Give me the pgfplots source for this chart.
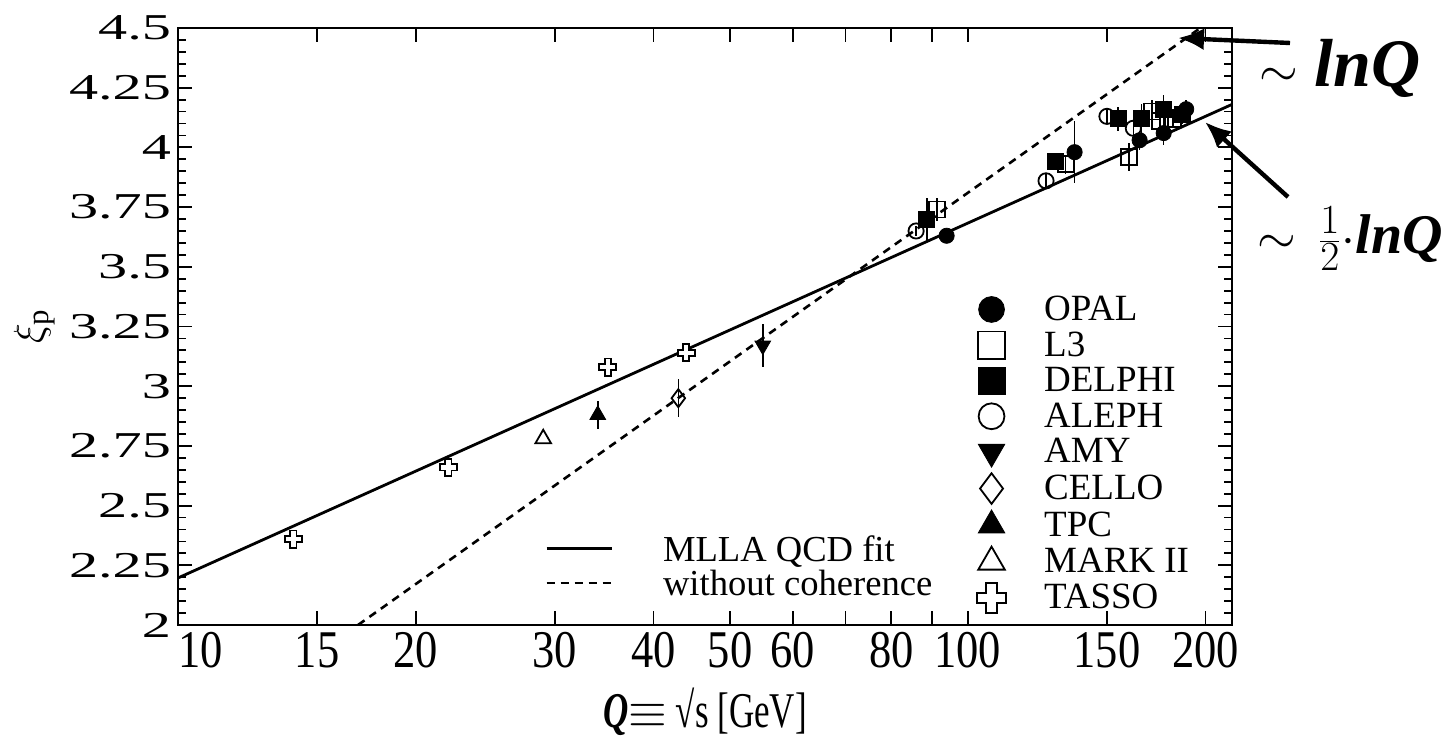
\documentclass[border=0pt]{standalone}
\usepackage{fontspec}
\setmainfont{Liberation Serif}
\newfontfamily\ytfont[FakeStretch=1.6]{Liberation Serif}
\newfontfamily\xtfont[FakeStretch=0.84]{Liberation Serif}
\newfontfamily\xlfont[FakeStretch=0.7]{Liberation Serif}
\usepackage{pgfplots}
\pgfplotsset{compat=1.18}
\usetikzlibrary{arrows.meta}

% open (outlined) cross for TASSO
\pgfdeclareplotmark{ocross}{%
  \pgfpathmoveto{\pgfpoint{-0.36\pgfplotmarksize}{\pgfplotmarksize}}%
  \pgfpathlineto{\pgfpoint{0.36\pgfplotmarksize}{\pgfplotmarksize}}%
  \pgfpathlineto{\pgfpoint{0.36\pgfplotmarksize}{0.36\pgfplotmarksize}}%
  \pgfpathlineto{\pgfpoint{\pgfplotmarksize}{0.36\pgfplotmarksize}}%
  \pgfpathlineto{\pgfpoint{\pgfplotmarksize}{-0.36\pgfplotmarksize}}%
  \pgfpathlineto{\pgfpoint{0.36\pgfplotmarksize}{-0.36\pgfplotmarksize}}%
  \pgfpathlineto{\pgfpoint{0.36\pgfplotmarksize}{-\pgfplotmarksize}}%
  \pgfpathlineto{\pgfpoint{-0.36\pgfplotmarksize}{-\pgfplotmarksize}}%
  \pgfpathlineto{\pgfpoint{-0.36\pgfplotmarksize}{-0.36\pgfplotmarksize}}%
  \pgfpathlineto{\pgfpoint{-\pgfplotmarksize}{-0.36\pgfplotmarksize}}%
  \pgfpathlineto{\pgfpoint{-\pgfplotmarksize}{0.36\pgfplotmarksize}}%
  \pgfpathlineto{\pgfpoint{-0.36\pgfplotmarksize}{0.36\pgfplotmarksize}}%
  \pgfpathclose
  \pgfusepathqfillstroke}

\pgfplotsset{
  errs/.style={error bars/.cd, y dir=both, y explicit, error mark=none,
    error bar style={line width=0.8pt, black}},
}

\begin{document}
\begin{tikzpicture}
% fit curves (own legend)
\begin{axis}[scale only axis, width=527pt, height=298.5pt, at={(0,0)}, anchor=south west,
  xmode=log, xmin=10, xmax=216, ymin=2, ymax=4.5, hide axis,
  legend cell align=left,
  legend style={at={(0.348,0.149)}, anchor=north west, draw=none, fill=none, inner sep=0pt,
    font=\fontsize{18.3}{17}\selectfont, row sep=0pt,
    nodes={inner sep=0pt, text height=12.3pt, text depth=4.8pt, anchor=base west},
    /tikz/every odd column/.append style={column sep=25pt}},
  legend image code/.code={\draw[#1] plot coordinates {(0pt,6.2pt) (32.5pt,6.2pt)};}]
\addplot[black, line width=1.4pt] coordinates {(10,2.197) (216,4.18)};
\addlegendentry{MLLA QCD fit}
\addplot[black, line width=1.3pt, dash pattern=on 4pt off 3pt] coordinates {(16.9,2.0) (197,4.5)};
\addlegendentry{without coherence}
\end{axis}

% data points
\begin{axis}[scale only axis, width=527pt, height=298.5pt, at={(0,0)}, anchor=south west,
  xmode=log, xmin=10, xmax=216, ymin=2, ymax=4.5,
  axis line style={line width=1.2pt},
  tick style={black, line width=0.9pt},
  major tick length=7pt, minor tick length=4pt,
  xtick={10,15,20,30,40,50,60,70,80,90,100,150,200},
  xticklabels={\makebox[0pt][l]{10},15,20,30,40,50,60,,80,,100,150,200},
  minor xtick={},
  ytick={2,2.25,2.5,2.75,3,3.25,3.5,3.75,4,4.25,4.5},
  yticklabels={2,2.25,2.5,2.75,3,3.25,3.5,3.75,4,4.25,4.5},
  minor y tick num=4,
  xticklabel style={font=\xtfont\fontsize{26.5}{26}\selectfont},
  yticklabel style={font=\ytfont\fontsize{18.2}{18}\selectfont},
  xlabel={{\xlfont\fontsize{25}{25}\selectfont\textbf{\textit{Q}}$\equiv$ √s [GeV]}},
  xlabel style={yshift=-3pt},
  ylabel={\fontsize{22}{22}\selectfont$\xi_{\mathrm{p}}$},
  legend cell align=left,
  legend style={at={(0.7576,0.553)}, anchor=north west, draw=none, fill=none, inner sep=0pt,
    font=\fontsize{18.5}{17}\selectfont, row sep=0pt,
    nodes={inner sep=0pt, text height=12.6pt, text depth=5.2pt, anchor=base west},
    /tikz/every odd column/.append style={column sep=19pt}},
  legend image code/.code={\draw[#1, every mark/.append style={scale=1.7}] plot coordinates {(6.75pt,5.5pt)};}]

\addplot[only marks, black, mark=*, mark size=3.8pt, errs] table[y error=e] {
x y e
94 3.63 0.03
136.5 3.98 0.13
165 4.03 0.04
177 4.06 0.05
189 4.16 0.04
};
\addlegendentry{OPAL}
\addplot[only marks, black, mark=square, mark size=4pt, mark options={fill=white, line width=0.9pt}, errs] table[y error=e] {
x y e
91.4 3.74 0.05
133 3.93 0.04
160 3.96 0.06
171 4.15 0.05
175 4.11 0.04
182 4.12 0.04
};
\addlegendentry{L3}
\addplot[only marks, black, mark=square*, mark size=4pt, errs] table[y error=e] {
x y e
88.7 3.70 0.09
129 3.94 0.03
155 4.12 0.05
166 4.12 0.06
177 4.16 0.06
187 4.14 0.04
};
\addlegendentry{DELPHI}
\addplot[only marks, black, mark=o, mark size=3.8pt, mark options={fill=white, line width=0.9pt}, errs] table[y error=e] {
x y e
86 3.65 0.02
125.6 3.86 0.03
150 4.13 0.03
162 4.08 0.03
};
\addlegendentry{ALEPH}
\addplot[only marks, black, mark=triangle*, mark size=4.5pt, mark options={rotate=180}, errs] table[y error=e] {
x y e
55 3.17 0.09
};
\addlegendentry{AMY}
\addplot[only marks, black, mark=diamond, mark size=4.5pt, mark options={fill=white, line width=0.9pt}, errs] table[y error=e] {
x y e
43 2.95 0.08
};
\addlegendentry{CELLO}
\addplot[only marks, black, mark=triangle*, mark size=4.5pt, errs] table[y error=e] {
x y e
34 2.88 0.06
};
\addlegendentry{TPC}
\addplot[only marks, black, mark=triangle, mark size=4.5pt, mark options={fill=white, line width=0.9pt}, errs] table[y error=e] {
x y e
29 2.78 0.0
};
\addlegendentry{MARK II}
\addplot[only marks, black, mark=ocross, mark size=4.3pt, mark options={fill=white, line width=0.9pt}, errs] table[y error=e] {
x y e
14 2.36 0.02
22 2.66 0.02
35 3.08 0.03
44 3.14 0.04
};
\addlegendentry{TASSO}
\end{axis}

% handwritten notes
\draw[line width=2.2pt, -{Latex[length=13pt,width=11pt]}] (556pt,291pt) -- (500pt,293.5pt);
\node[font=\fontsize{34}{34}\selectfont\bfseries\itshape] at (581pt,278.5pt) {$\sim$ lnQ};
\draw[line width=2.2pt, -{Latex[length=13pt,width=11pt]}] (555pt,214pt) -- (513.5pt,251.5pt);
\node[font=\fontsize{28}{28}\selectfont\bfseries\itshape] at (586pt,193pt) {$\sim\,\frac{1}{2}\cdot$lnQ};

\pgfresetboundingbox
\useasboundingbox (-89pt,-57pt) rectangle (633.5pt,312.5pt);
\end{tikzpicture}
\end{document}
